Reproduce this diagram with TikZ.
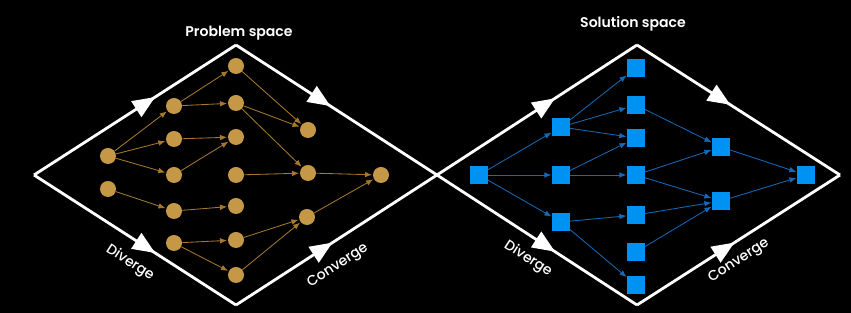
\documentclass[tikz,border=0pt]{standalone}
\usepackage{fontspec}
\setmainfont{Poppins}
\newfontfamily\phasefont{Poppins Medium}
\newfontfamily\titlefont{Poppins SemiBold}
\usetikzlibrary{arrows.meta,decorations.markings}
\definecolor{goldfill}{RGB}{197,152,72}
\definecolor{goldline}{RGB}{165,120,45}
\definecolor{bluefill}{RGB}{0,146,242}
\definecolor{blueline}{RGB}{20,105,185}
\tikzset{
    >=Latex,
    idea/.style={
        circle,
        fill=goldfill,
        inner sep=0pt,
        minimum size=0.4cm
    },
    option/.style={
        rectangle,
        fill=bluefill,
        inner sep=0pt,
        minimum size=0.43cm
    },
    goldlink/.style={
        ->,
        draw=goldline,
        line width=0.6pt,
        >={Latex[length=5pt,width=4pt]},
        shorten >=0.5pt
    },
    bluelink/.style={
        ->,
        draw=blueline,
        line width=0.6pt,
        >={Latex[length=5pt,width=4pt]},
        shorten >=0.5pt
    },
    edge/.style={
        draw=white,
        line width=2pt,
        line join=miter
    },
    bigarrow/.style={
        postaction={decorate},
        decoration={markings,
            mark=at position #1 with {\arrow[white]{Triangle[length=16pt,width=13pt]}}}
    },
    title/.style={
        text=white,
        font=\titlefont\fontsize{10}{12}\selectfont
    },
    phase/.style={
        text=white,
        inner sep=1pt,
        font=\phasefont\fontsize{10}{12}\selectfont
    }
}

\begin{document}
\begin{tikzpicture}[x=0.025cm, y=-0.025cm]

% Background
\fill[black] (0,0) rectangle (851,313);
\useasboundingbox (0,0) rectangle (851,313);

% Diamond corners
\coordinate (pl) at (34,175);
\coordinate (pt) at (236,45);
\coordinate (pr) at (437,175);
\coordinate (pb) at (236,305);
\coordinate (st) at (637,45);
\coordinate (sr) at (840,175);
\coordinate (sb) at (637,305);

% Problem space outline
\draw[edge, bigarrow=0.6] (pl) -- (pt);
\draw[edge, bigarrow=0.47] (pt) -- (pr);
\draw[edge, bigarrow=0.6] (pl) -- (pb);
\draw[edge, bigarrow=0.48] (pb) -- (pr);

% Solution space outline
\draw[edge, bigarrow=0.59] (pr) -- (st);
\draw[edge, bigarrow=0.46] (st) -- (sr);
\draw[edge, bigarrow=0.59] (pr) -- (sb);
\draw[edge, bigarrow=0.48] (sb) -- (sr);

% Titles and phases
\node[title] (ptitle) at (239,33) {Problem space};
\node[title] (stitle) at (633,24) {Solution space};
\node[phase, rotate=-33] (pdiv) at (130,263) {Diverge};
\node[phase, rotate=33] (pcon) at (338,266) {Converge};
\node[phase, rotate=-33] (sdiv) at (528,259) {Diverge};
\node[phase, rotate=33] (scon) at (739,261) {Converge};

% Problem space ideas
\node[idea] (pa1) at (108,156) {};
\node[idea] (pa2) at (108,189) {};
\node[idea] (pb1) at (174,106) {};
\node[idea] (pb2) at (174,139) {};
\node[idea] (pb3) at (174,175) {};
\node[idea] (pb4) at (174,211) {};
\node[idea] (pb5) at (174,243) {};
\node[idea] (pc1) at (236,66) {};
\node[idea] (pc2) at (236,103) {};
\node[idea] (pc3) at (236,137) {};
\node[idea] (pc4) at (236,175) {};
\node[idea] (pc5) at (236,206) {};
\node[idea] (pc6) at (236,240) {};
\node[idea] (pc7) at (236,275) {};
\node[idea] (pd1) at (308,130) {};
\node[idea] (pd2) at (308,173) {};
\node[idea] (pd3) at (307,217) {};
\node[idea] (pe) at (381,175) {};

\draw[goldlink] (pa1) -- (pb1);
\draw[goldlink] (pa1) -- (pb2);
\draw[goldlink] (pa1) -- (pb3);
\draw[goldlink] (pa2) -- (pb4);
\draw[goldlink] (pb1) -- (pc1);
\draw[goldlink] (pb1) -- (pc2);
\draw[goldlink] (pb2) -- (pc3);
\draw[goldlink] (pb3) -- (pc3);
\draw[goldlink] (pb4) -- (pc5);
\draw[goldlink] (pb5) -- (pc6);
\draw[goldlink] (pb5) -- (pc7);
\draw[goldlink] (pc1) -- (pd1);
\draw[goldlink] (pc2) -- (pd1);
\draw[goldlink] (pc2) -- (pd2);
\draw[goldlink] (pc4) -- (pd2);
\draw[goldlink] (pc6) -- (pd3);
\draw[goldlink] (pc7) -- (pd3);
\draw[goldlink] (pd2) -- (pe);
\draw[goldlink] (pd3) -- (pe);

% Solution space options
\node[option] (sa) at (479,175) {};
\node[option] (sb1) at (561,127) {};
\node[option] (sb2) at (561,175) {};
\node[option] (sb3) at (561,222) {};
\node[option] (sc1) at (636,68) {};
\node[option] (sc2) at (636,105) {};
\node[option] (sc3) at (636,138) {};
\node[option] (sc4) at (636,175) {};
\node[option] (sc5) at (636,215) {};
\node[option] (sc6) at (636,252) {};
\node[option] (sc7) at (636,285) {};
\node[option] (sd1) at (721,147) {};
\node[option] (sd2) at (721,201) {};
\node[option] (se) at (806,175) {};

\draw[bluelink] (sa) -- (sb1);
\draw[bluelink] (sa) -- (sb2);
\draw[bluelink] (sa) -- (sb3);
\draw[bluelink] (sb1) -- (sc1);
\draw[bluelink] (sb1) -- (sc2);
\draw[bluelink] (sb1) -- (sc3);
\draw[bluelink] (sb2) -- (sc3);
\draw[bluelink] (sb2) -- (sc4);
\draw[bluelink] (sb3) -- (sc5);
\draw[bluelink] (sb3) -- (sc7);
\draw[bluelink] (sc2) -- (sd1);
\draw[bluelink] (sc4) -- (sd1);
\draw[bluelink] (sc4) -- (sd2);
\draw[bluelink] (sc5) -- (sd2);
\draw[bluelink] (sc6) -- (sd2);
\draw[bluelink] (sd1) -- (se);
\draw[bluelink] (sd2) -- (se);

\end{tikzpicture}
\end{document}
